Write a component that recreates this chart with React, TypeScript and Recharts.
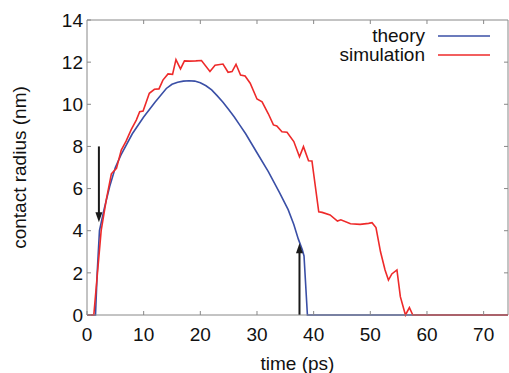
import { LineChart, Line, XAxis, YAxis, Legend, ReferenceLine, ReferenceDot } from 'recharts'

// time (ps) / contact radius (nm)
const theoryT = [0, 1.5, 1.8, 2.2, 3, 4, 5, 6, 8, 10, 12, 14, 15, 16, 17, 18, 19, 20, 21, 22, 23, 24, 25, 26, 27, 28, 29, 30, 32, 34, 35.5, 36.5, 37.3, 38, 38.3, 38.9, 74.3]
const theoryR = [0, 0, 2, 4.0, 5.0, 6.1, 7.0, 7.6, 8.6, 9.4, 10.1, 10.75, 10.95, 11.05, 11.1, 11.12, 11.1, 11.02, 10.88, 10.68, 10.4, 10.1, 9.75, 9.4, 9.0, 8.6, 8.15, 7.7, 6.8, 5.8, 5.0, 4.3, 3.6, 3.1, 2.8, 0, 0]

const simT = [0, 1.2, 2.5, 3.4, 4.3, 5.2, 6.05, 6.9, 7.8, 8.7, 9.3, 9.9, 11.0, 11.9, 12.7, 13.4, 14.3, 15.1, 15.7, 16.5, 17.2, 18.1, 19.2, 20.2, 21.7, 22.6, 24.0, 24.9, 25.6, 26.3, 27.1, 27.9, 28.8, 30.0, 30.9, 32.0, 32.9, 33.5, 34.4, 35.3, 36.5, 37.5, 38.2, 39.1, 39.7, 40.9, 41.5, 42.9, 44.2, 44.8, 46.5, 48.2, 49.7, 50.3, 51.0, 51.8, 52.6, 53.2, 53.8, 54.7, 55.3, 56.2, 56.9, 57.5, 74.3]
const simR = [0, 0, 4.0, 5.46, 6.7, 6.96, 7.83, 8.25, 8.8, 9.25, 9.65, 9.68, 10.52, 10.71, 10.73, 11.15, 11.44, 11.42, 12.12, 11.68, 12.06, 12.05, 12.06, 12.08, 11.56, 11.85, 11.91, 11.52, 11.55, 11.9, 11.39, 11.34, 11.0, 10.25, 10.12, 9.55, 9.02, 8.97, 8.7, 8.67, 8.23, 7.51, 7.99, 7.32, 7.31, 4.9, 4.87, 4.75, 4.46, 4.52, 4.33, 4.3, 4.35, 4.38, 4.15, 3.0, 2.14, 1.66, 1.95, 2.14, 0.87, 0, 0.35, 0, 0]

const xTicks = [0, 10, 20, 30, 40, 50, 60, 70]
const yTicks = [0, 2, 4, 6, 8, 10, 12, 14]
const X_MAX = 74.3
const Y_MAX = 14

// arrows: [t, from, to]
const downArrow = [2.1, 8.0, 4.4]
const upArrow = [37.5, 0, 3.4]

const theory = theoryT.map((t, i) => ({ t, r: theoryR[i] }))
const simulation = simT.map((t, i) => ({ t, r: simR[i] }))

const BLUE = '#3a4fa6'
const RED = '#ee2a2a'
const AXIS = '#888'
const FONT = '"Liberation Sans", Arial, sans-serif'

const series = [
  { name: 'theory', color: BLUE },
  { name: 'simulation', color: RED },
]

function ArrowHead({ cx, cy, dir }: { cx?: number; cy?: number; dir: number }) {
  if (cx == null || cy == null) return null
  const h = 10 * dir
  return <polygon points={`${cx},${cy} ${cx - 3.5},${cy - h} ${cx + 3.5},${cy - h}`} fill="#1a1a1a" />
}

function YLabel({ viewBox }: { viewBox?: { x: number; y: number; width: number; height: number } }) {
  if (!viewBox) return null
  const cx = viewBox.x + 19
  const cy = viewBox.y + viewBox.height / 2
  return (
    <text x={cx} y={cy} transform={`rotate(-90, ${cx}, ${cy})`} textAnchor="middle" dominantBaseline="central"
      style={{ fontFamily: FONT, fontSize: 19, fill: '#111' }}>
      contact radius (nm)
    </text>
  )
}

function XLabel({ viewBox }: { viewBox?: { x: number; y: number; width: number; height: number } }) {
  if (!viewBox) return null
  return (
    <text x={viewBox.x + viewBox.width / 2} y={viewBox.y + 48} textAnchor="middle" dominantBaseline="central"
      style={{ fontFamily: FONT, fontSize: 19, fill: '#111' }}>
      time (ps)
    </text>
  )
}

function LegendBox() {
  return (
    <div style={{ fontFamily: FONT, fontSize: 19, color: '#111' }}>
      {series.map(s => (
        <div key={s.name} style={{ display: 'flex', justifyContent: 'flex-end', alignItems: 'center', height: 19 }}>
          <span>{s.name}</span>
          <svg width={52} height={4} style={{ marginLeft: 13 }}>
            <line x1={0} y1={2} x2={52} y2={2} stroke={s.color} strokeWidth={1.6} />
          </svg>
        </div>
      ))}
    </div>
  )
}

export default function App() {
  const tickStyle = { fontFamily: FONT, fontSize: 19, fill: '#111' }
  // inward tick length of 4px in data units (plot is ~421 x 295 px)
  const tx = (4 / 421) * X_MAX
  const ty = (4 / 295) * Y_MAX
  return (
    <div style={{ position: 'absolute', left: 0, top: 0, background: 'white' }}>
      <LineChart width={509} height={373} margin={{ top: 20, right: 1, bottom: 0, left: 0 }}>
        <XAxis dataKey="t" type="number" domain={[0, X_MAX]} ticks={xTicks} interval={0}
          height={58} tickSize={-4} tickMargin={17} stroke={AXIS} tick={tickStyle}
          allowDataOverflow label={<XLabel />} />
        <YAxis type="number" domain={[0, Y_MAX]} ticks={yTicks} interval={0} width={87}
          tickSize={-4} tickMargin={8} stroke={AXIS} tick={tickStyle} label={<YLabel />} />
        {/* top and right frame with mirrored tick marks */}
        <ReferenceLine y={Y_MAX} stroke={AXIS} />
        <ReferenceLine x={X_MAX} stroke={AXIS} />
        {xTicks.slice(1).map(t => (
          <ReferenceLine key={'xt' + t} segment={[{ x: t, y: Y_MAX }, { x: t, y: Y_MAX - ty }]} stroke={AXIS} />
        ))}
        {yTicks.slice(1, -1).map(v => (
          <ReferenceLine key={'yt' + v} segment={[{ x: X_MAX, y: v }, { x: X_MAX - tx, y: v }]} stroke={AXIS} />
        ))}
        <Line data={theory} dataKey="r" name="theory" type="linear" stroke={BLUE} strokeWidth={1.6}
          dot={false} isAnimationActive={false} />
        <Line data={simulation} dataKey="r" name="simulation" type="linear" stroke={RED} strokeWidth={1.6}
          dot={false} isAnimationActive={false} />
        <ReferenceLine segment={[{ x: downArrow[0], y: downArrow[1] }, { x: downArrow[0], y: downArrow[2] + 0.3 }]}
          stroke="#1a1a1a" strokeWidth={2} />
        <ReferenceDot x={downArrow[0]} y={downArrow[2]} r={0} shape={(p: any) => <ArrowHead cx={p.cx} cy={p.cy} dir={1} />} />
        <ReferenceLine segment={[{ x: upArrow[0], y: upArrow[1] }, { x: upArrow[0], y: upArrow[2] - 0.3 }]}
          stroke="#1a1a1a" strokeWidth={2} />
        <ReferenceDot x={upArrow[0]} y={upArrow[2]} r={0} shape={(p: any) => <ArrowHead cx={p.cx} cy={p.cy} dir={-1} />} />
        <Legend layout="horizontal" verticalAlign="middle" align="center" content={<LegendBox />}
          wrapperStyle={{ top: 26, left: 290, width: 200, height: 40 }} />
      </LineChart>
    </div>
  )
}
